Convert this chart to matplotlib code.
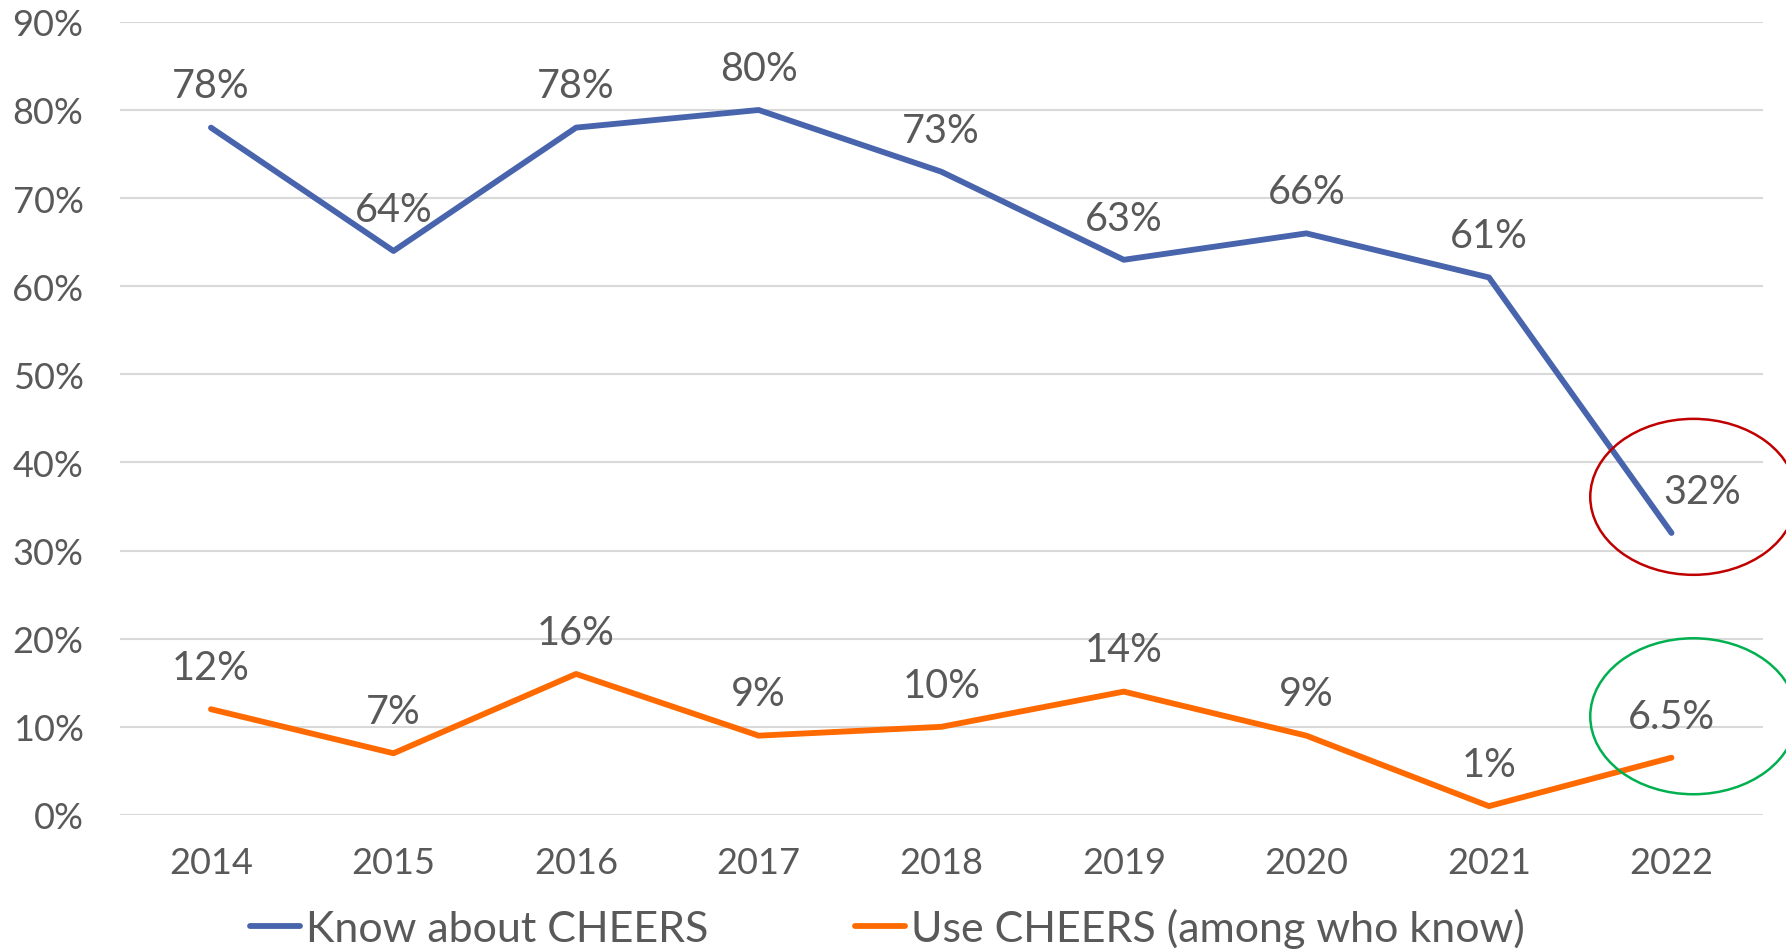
import matplotlib
matplotlib.use("Agg")
import matplotlib.pyplot as plt
from matplotlib.patches import Ellipse

years = ["2014", "2015", "2016", "2017", "2018", "2019", "2020", "2021", "2022"]
know = [78, 64, 78, 80, 73, 63, 66, 61, 32]
use = [12, 7, 16, 9, 10, 14, 9, 1, 6.5]
know_labels = ["78%", "64%", "78%", "80%", "73%", "63%", "66%", "61%", "32%"]
use_labels = ["12%", "7%", "16%", "9%", "10%", "14%", "9%", "1%", "6.5%"]
y_ticks = [0, 10, 20, 30, 40, 50, 60, 70, 80, 90]

plt.rcParams["font.family"] = ["Lato", "DejaVu Sans"]
TEXT = "#595959"
BLUE = "#4864AC"
ORANGE = "#FF6A00"

fig = plt.figure(figsize=(17.86, 9.53), dpi=100)
ax = fig.add_axes([0.067, 0.1438, 0.92, 0.8322])

x = list(range(len(years)))
ax.plot(x, know, color=BLUE, lw=4.2, solid_capstyle="round", solid_joinstyle="round",
        label="Know about CHEERS", zorder=3)
ax.plot(x, use, color=ORANGE, lw=4.2, solid_capstyle="round", solid_joinstyle="round",
        label="Use CHEERS (among who know)", zorder=3)

for i, (v, s) in enumerate(zip(know, know_labels)):
    dx = 22 if i == len(know) - 1 else 0
    ax.annotate(s, (i, v), xytext=(dx, 30), textcoords="offset points",
                ha="center", va="center", fontsize=28.5, color=TEXT)
for i, (v, s) in enumerate(zip(use, use_labels)):
    ax.annotate(s, (i, v), xytext=(0, 30), textcoords="offset points",
                ha="center", va="center", fontsize=28.5, color=TEXT)

# highlight circles around the 2022 values
ax.add_patch(Ellipse((8.12, 36.1), 1.13, 17.7, fill=False, ec="#C00000", lw=1.8, zorder=4, clip_on=False))
ax.add_patch(Ellipse((8.12, 11.2), 1.13, 17.7, fill=False, ec="#00B050", lw=1.8, zorder=4, clip_on=False))

ax.set_xlim(-0.5, len(years) - 0.5)
ax.set_ylim(0, 90)
ax.set_yticks(y_ticks)
ax.set_yticklabels([f"{t}%" for t in y_ticks])
ax.set_xticks(x)
ax.set_xticklabels(years)
ax.grid(axis="y", color="#D9D9D9", lw=1.5)
ax.set_axisbelow(True)
for sp in ax.spines.values():
    sp.set_visible(False)
ax.tick_params(axis="both", length=0, labelsize=26, labelcolor=TEXT)
ax.tick_params(axis="x", pad=22)
ax.tick_params(axis="y", pad=26)

leg = fig.legend(loc="center", bbox_to_anchor=(0.497, 0.025), ncol=2, frameon=False,
                 fontsize=31, labelcolor=TEXT, handlelength=1.15, handletextpad=0.15,
                 columnspacing=3.4)
for h in leg.legend_handles:
    h.set_solid_capstyle("round")

fig.savefig("out.png", dpi=100)
